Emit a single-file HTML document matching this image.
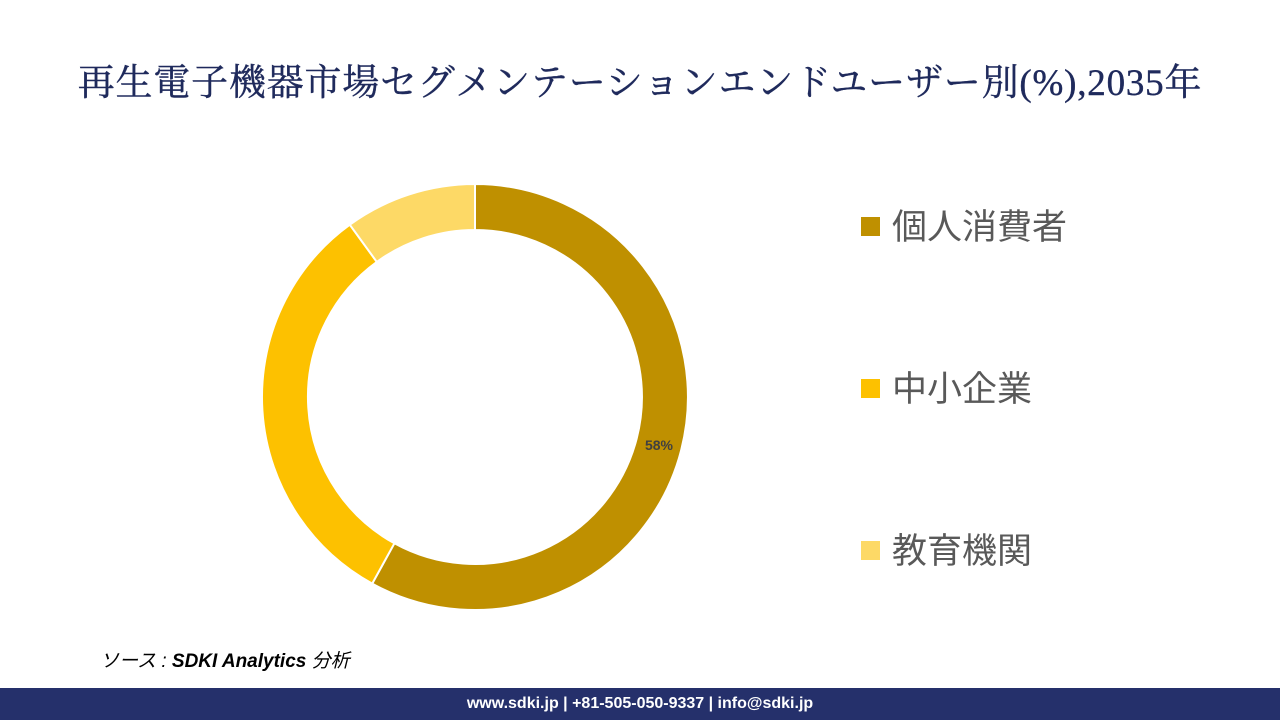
<!DOCTYPE html>
<html><head><meta charset="utf-8"><style>
body{margin:0;width:1280px;height:720px;background:#fff;position:relative;overflow:hidden;font-family:"Liberation Sans","Noto Sans CJK JP",sans-serif}
.title{position:absolute;top:52px;left:0;width:1280px;text-align:center;font-family:"Liberation Serif","Noto Serif CJK SC",serif;font-size:37px;font-weight:normal;color:#1f2a5c;letter-spacing:0.8px;-webkit-text-stroke:0.4px #1f2a5c}
.leg{position:absolute;left:861px;font-size:35px;color:#595959;line-height:40px}
.leg span{display:inline-block;width:19px;height:19px;margin-right:12px;vertical-align:middle;position:relative;top:-3px}
.src{position:absolute;left:100px;top:646px;font-size:19px;font-style:italic;color:#000}
.foot{position:absolute;left:0;top:688px;width:1280px;height:32px;background:#25306b;color:#fff;font-weight:bold;font-size:16px;text-align:center;line-height:32px}
</style></head><body>
<div class="title">再生電子機器市場セグメンテーションエンドユーザー別(%),2035年</div>
<svg width="1280" height="720" style="position:absolute;left:0;top:0">
<g transform="translate(475,397)" stroke="#fff" stroke-width="2">
<path d="M0,-213 A213,213 0 1 1 -102.8,186.6 L-80.6,146.3 A167,167 0 1 0 0,-167 Z" fill="#bf9000"/>
<path d="M-102.8,186.6 A213,213 0 0 1 -125.2,-172.3 L-98.2,-135.1 A167,167 0 0 0 -80.6,146.3 Z" fill="#fdc100"/>
<path d="M-125.2,-172.3 A213,213 0 0 1 0,-213 L0,-167 A167,167 0 0 0 -98.2,-135.1 Z" fill="#fdd966"/>
</g>
<text x="659" y="450" text-anchor="middle" font-family="Liberation Sans, sans-serif" font-weight="bold" font-size="14" fill="#404040">58%</text>
</svg>
<div class="leg" style="top:208px"><span style="background:#bf9000"></span>個人消費者</div>
<div class="leg" style="top:370px"><span style="background:#fdc100"></span>中小企業</div>
<div class="leg" style="top:532px"><span style="background:#fdd966"></span>教育機関</div>
<div class="src">ソース : <b>SDKI Analytics</b> 分析</div>
<div class="foot">www.sdki.jp | +81-505-050-9337 | info@sdki.jp</div>
</body></html>
